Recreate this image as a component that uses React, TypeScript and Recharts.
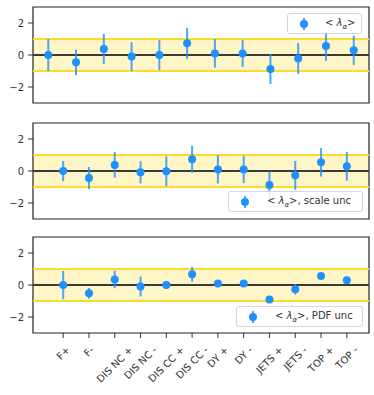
import { ComposedChart, Scatter, ErrorBar, XAxis, YAxis, ReferenceArea, ReferenceLine } from 'recharts'

const categories = ['F+', 'F-', 'DIS NC +', 'DIS NC -', 'DIS CC +', 'DIS CC -', 'DY +', 'DY -', 'JETS +', 'JETS -', 'TOP +', 'TOP -']

const lambdaAll = [0, -0.46, 0.38, -0.1, 0, 0.73, 0.1, 0.1, -0.88, -0.22, 0.56, 0.29]
const errAll = [1.0, 0.8, 0.95, 0.9, 0.95, 0.97, 0.9, 0.85, 0.94, 0.97, 0.93, 0.92]

const lambdaScale = [0, -0.44, 0.38, -0.08, -0.02, 0.73, 0.1, 0.1, -0.88, -0.27, 0.54, 0.29]
const errScale = [0.63, 0.69, 0.8, 0.69, 0.93, 0.84, 0.88, 0.85, 0.86, 0.9, 0.89, 0.9]

const lambdaPdf = [0, -0.52, 0.35, -0.1, 0, 0.67, 0.1, 0.1, -0.9, -0.27, 0.56, 0.29]
const errPdf = [0.88, 0.33, 0.55, 0.62, 0.22, 0.47, 0.1, 0.1, 0.1, 0.33, 0.08, 0.08]

const yTicks = [-2, 0, 2]

const BLUE = '#1e90ff'
const INK = '#333333'
const FONT = '"DejaVu Sans", sans-serif'

function toRows(vals: number[], errs: number[]) {
  return vals.map((y, i) => ({ x: i, y, err: errs[i] }))
}

// rotated labels are centred on the tick like matplotlib's ha='center'
let measureCtx: CanvasRenderingContext2D | null = null
function textWidth(s: string) {
  if (!measureCtx) {
    measureCtx = document.createElement('canvas').getContext('2d')
    if (measureCtx) measureCtx.font = '10px "DejaVu Sans"'
  }
  return measureCtx ? measureCtx.measureText(s).width : s.length * 6
}

function Dot(props: any) {
  const { cx, cy } = props
  if (cx == null || cy == null) return null
  return <circle cx={cx} cy={cy} r={4} fill={BLUE} />
}

function XTick(props: any) {
  const { x, y, payload } = props
  const label = categories[payload.value]
  const half = ((textWidth(label) + 11.6) * 0.7071) / 2
  const cy = y + 6 + half
  return (
    <text
      x={x}
      y={cy}
      transform={`rotate(-45, ${x}, ${cy})`}
      textAnchor="middle"
      dominantBaseline="central"
      fontSize={10}
      fill={INK}
      fontFamily={FONT}
    >
      {label}
    </text>
  )
}

function LegendBox({ left, top, width, suffix, textLeft }: { left: number; top: number; width: number; suffix: string; textLeft: number }) {
  return (
    <div
      style={{
        position: 'absolute',
        left,
        top,
        width,
        height: 21,
        border: '1px solid #d6d6d6',
        borderRadius: 3,
        background: 'rgba(255,255,255,0.85)',
        boxSizing: 'border-box',
        fontFamily: FONT,
        fontSize: 10,
        color: INK,
      }}
    >
      <svg width={20} height={21} style={{ position: 'absolute', left: 6, top: -1 }}>
        <line x1={10} x2={10} y1={5} y2={17} stroke={BLUE} strokeOpacity={0.8} strokeWidth={2} />
        <circle cx={10} cy={11} r={4} fill={BLUE} />
      </svg>
      <div style={{ position: 'absolute', left: textLeft, top: 3, whiteSpace: 'nowrap' }}>
        &lt; <i>λ</i>
        <sub style={{ fontSize: 7, fontStyle: 'italic' }}>α</sub>&gt;{suffix}
      </div>
    </div>
  )
}

function Panel({ rows, domain, top, height, bottomAxis }: { rows: { x: number; y: number; err: number }[]; domain: [number, number]; top: number; height: number; bottomAxis: boolean }) {
  return (
    <div style={{ position: 'absolute', left: 0, top }}>
      <ComposedChart width={374} height={height} data={rows} margin={{ top: 7, right: 5, bottom: bottomAxis ? 0 : 7, left: 0 }}>
        <XAxis
          type="number"
          dataKey="x"
          domain={domain}
          allowDataOverflow
          ticks={categories.map((_, i) => i)}
          interval={0}
          hide={!bottomAxis}
          height={bottomAxis ? 62 : 0}
          axisLine={false}
          tickLine={{ stroke: INK }}
          tickSize={5}
          tickMargin={0}
          tick={<XTick />}
        />
        <YAxis
          type="number"
          dataKey="y"
          domain={[-3, 3]}
          allowDataOverflow
          ticks={yTicks}
          width={33}
          axisLine={false}
          tickLine={{ stroke: INK }}
          tickSize={5}
          tickMargin={4}
          tick={{ fontSize: 10, fill: INK, fontFamily: FONT }}
          tickFormatter={(v: number) => String(v).replace('-', '\u2212')}
        />
        <ReferenceArea y1={-1} y2={1} fill="#fff6c8" fillOpacity={1} stroke="none" />
        <ReferenceLine y={1} stroke="#ffd92e" strokeWidth={2} />
        <ReferenceLine y={-1} stroke="#ffd92e" strokeWidth={2} />
        <ReferenceLine y={0} stroke="#3a3a3a" strokeWidth={2} />
        <Scatter dataKey="y" fill={BLUE} shape={<Dot />} isAnimationActive={false}>
          <ErrorBar dataKey="err" direction="y" width={0} stroke={BLUE} strokeOpacity={0.8} strokeWidth={2} />
        </Scatter>
        <ReferenceArea y1={-3} y2={3} fill="none" stroke="#222" strokeWidth={1.2} ifOverflow="visible" />
      </ComposedChart>
    </div>
  )
}

export default function App() {
  return (
    <div style={{ position: 'absolute', left: 0, top: 0, width: 374, height: 395, background: '#fff' }}>
      <Panel rows={toRows(lambdaAll, errAll)} domain={[-0.55, 11.55]} top={0} height={110} bottomAxis={false} />
      <Panel rows={toRows(lambdaScale, errScale)} domain={[-1.17, 11.86]} top={115.5} height={110} bottomAxis={false} />
      <Panel rows={toRows(lambdaPdf, errPdf)} domain={[-1.17, 11.86]} top={230} height={165} bottomAxis />
      <LegendBox left={287} top={13} width={75} suffix="" textLeft={37} />
      <LegendBox left={228} top={191} width={135} suffix=", scale unc" textLeft={38} />
      <LegendBox left={236} top={306} width={127} suffix=", PDF unc" textLeft={38} />
    </div>
  )
}
